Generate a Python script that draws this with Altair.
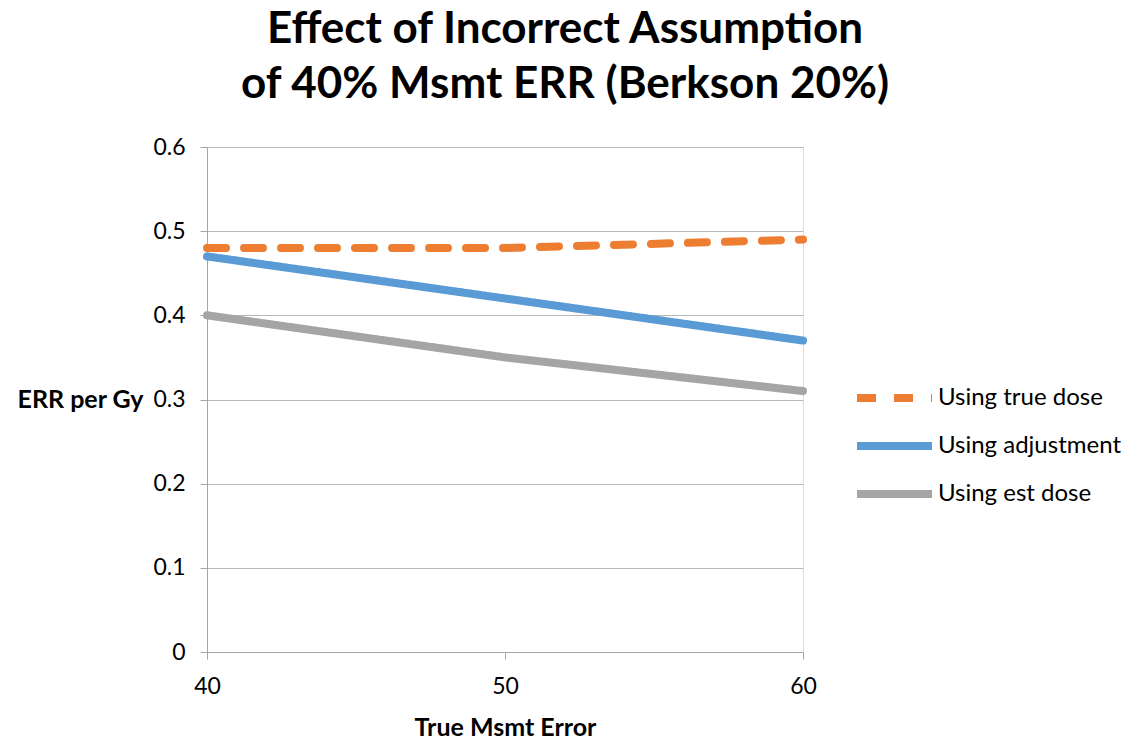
import altair as alt
import pandas as pd

x_vals = [40, 50, 60]
true_dose = [0.48, 0.48, 0.49]
adjustment = [0.47, 0.42, 0.37]
est_dose = [0.40, 0.35, 0.31]
series_names = ["Using true dose", "Using adjustment", "Using est dose"]
colors = ["#ED7D31", "#5B9BD5", "#A5A5A5"]
dashes = [[19, 18], [1, 0], [1, 0]]
y_ticks = [0, 0.1, 0.2, 0.3, 0.4, 0.5, 0.6]
x_ticks = [40, 50, 60]

rows = []
for name, vals in zip(series_names, [true_dose, adjustment, est_dose]):
    for xv, yv in zip(x_vals, vals):
        rows.append({"x": xv, "y": yv, "series": name})
df = pd.DataFrame(rows)

FONT = "Lato"

legend_opts = dict(title=None, orient="none", legendX=646, legendY=227,
                   symbolType="stroke", symbolSize=5625,
                   symbolStrokeWidth=8, labelFontSize=24, labelLimit=400,
                   labelOffset=2, rowPadding=0, clipHeight=48, padding=0,
                   labelColor="#000000")

chart = alt.Chart(df).mark_line(strokeWidth=8, strokeCap="round").encode(
    x=alt.X("x:Q",
            scale=alt.Scale(domain=[40, 60], nice=False, zero=False),
            axis=alt.Axis(values=x_ticks, title="True Msmt Error", grid=False,
                          tickSize=7, labelPadding=16, labelFontSize=23,
                          labelFlush=False,
                          titleFontSize=25, titleFontWeight="bold",
                          titleBaseline="alphabetic", titleY=83,
                          domainColor="#A6A6A6", tickColor="#A6A6A6",
                          labelColor="#000000", titleColor="#000000")),
    y=alt.Y("y:Q",
            scale=alt.Scale(domain=[0, 0.6], nice=False),
            axis=alt.Axis(values=y_ticks, format=".1~f", title="ERR per Gy",
                          grid=True, gridColor="#B8B8B8", gridWidth=1,
                          tickSize=7, labelPadding=15, labelFontSize=23,
                          titleAngle=0, titleAlign="right", titleBaseline="middle",
                          titleX=-64, titleY=252.5, titleFontSize=25,
                          titleFontWeight="bold",
                          domainColor="#A6A6A6", tickColor="#A6A6A6",
                          labelColor="#000000", titleColor="#000000")),
    color=alt.Color("series:N",
                    scale=alt.Scale(domain=series_names, range=colors),
                    legend=alt.Legend(**legend_opts)),
    strokeDash=alt.StrokeDash("series:N",
                              scale=alt.Scale(domain=series_names, range=dashes),
                              legend=alt.Legend(**legend_opts)),
).properties(
    width=596,
    height=505,
    title=alt.TitleParams(
        text=["Effect of Incorrect Assumption", "of 40% Msmt ERR (Berkson 20%)"],
        fontSize=44, fontWeight="bold", font=FONT, color="#000000",
        anchor="middle", dx=60, dy=47, lineHeight=55, offset=32, baseline="bottom",
    ),
    autosize=alt.AutoSizeParams(type="none"),
    padding={"left": 207, "top": 147, "right": 329, "bottom": 87},
    background="#FFFFFF",
).configure_view(stroke=None).configure(font=FONT)

chart.save("out.html", embed_options={"renderer": "svg", "actions": False})
